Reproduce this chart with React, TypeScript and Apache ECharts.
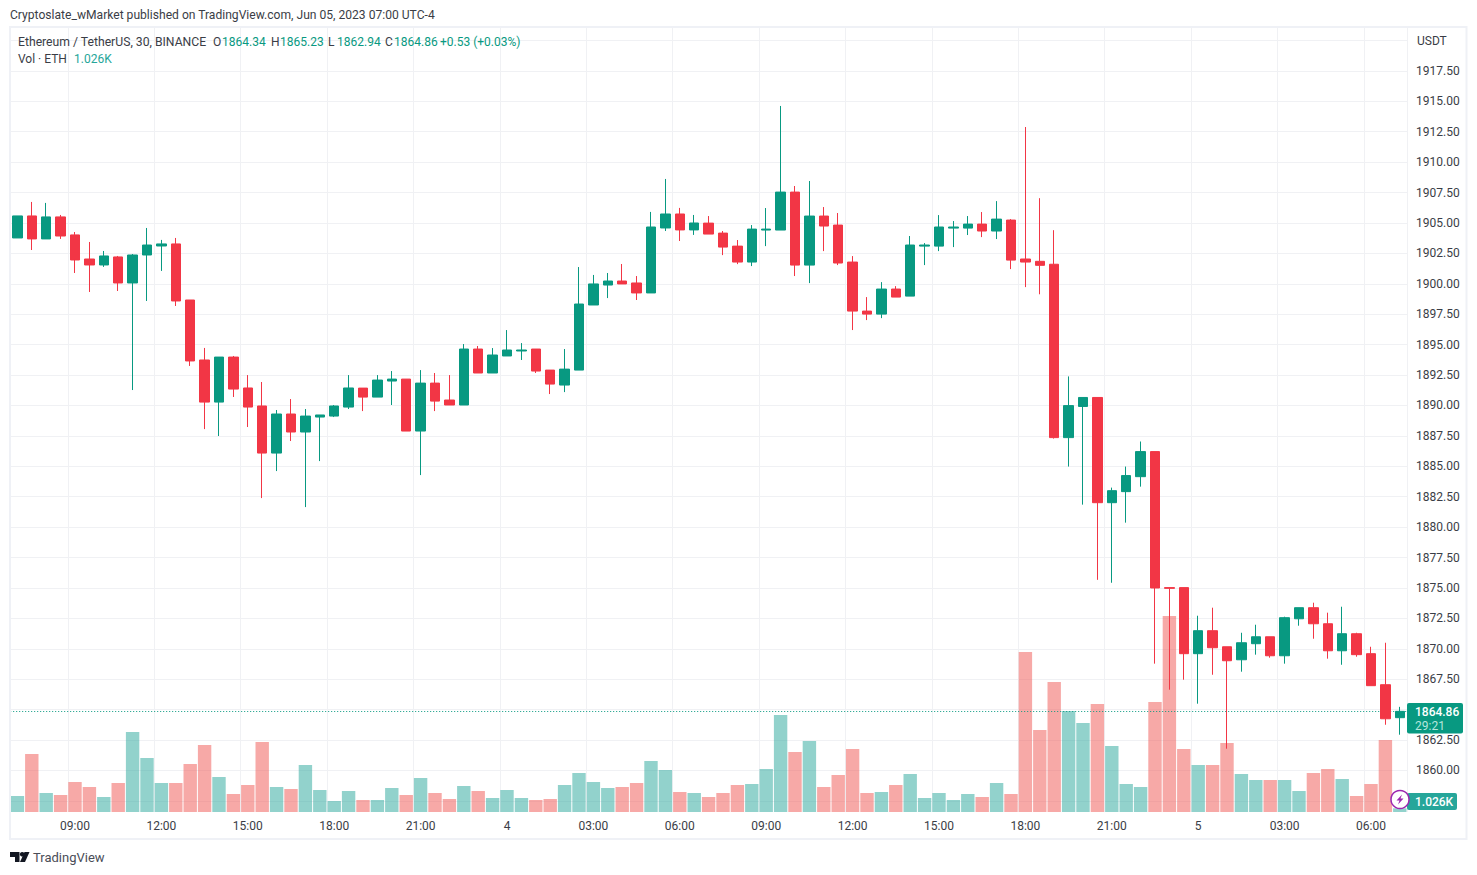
import React, { useEffect, useRef } from "react";
import * as echarts from "echarts";

const timeLabels = [
  "07:00","07:30","08:00","08:30","09:00","09:30","10:00","10:30","11:00","11:30","12:00","12:30","13:00","13:30","14:00","14:30","15:00","15:30","16:00","16:30","17:00","17:30","18:00","18:30","19:00","19:30","20:00","20:30","21:00","21:30","22:00","22:30","23:00","23:30",
  "4","00:30","01:00","01:30","02:00","02:30","03:00","03:30","04:00","04:30","05:00","05:30","06:00","06:30","07:00","07:30","08:00","08:30","09:00","09:30","10:00","10:30","11:00","11:30","12:00","12:30","13:00","13:30","14:00","14:30","15:00","15:30","16:00","16:30","17:00","17:30","18:00","18:30","19:00","19:30","20:00","20:30","21:00","21:30","22:00","22:30","23:00","23:30",
  "5","00:30","01:00","01:30","02:00","02:30","03:00","03:30","04:00","04:30","05:00","05:30","06:00","06:30","07:00",
];

const opens = [
  1903.77,1905.58,1903.69,1905.50,1904.02,1902.04,1901.55,1902.21,1900.07,1902.37,1903.11,1903.28,1898.67,1893.74,1890.28,1893.98,1891.44,1889.96,1886.09,1889.30,1887.82,1889.05,1889.13,1889.87,
  1891.43,1890.69,1892.01,1892.17,1887.90,1891.84,1890.45,1890.04,1894.64,1892.67,1894.07,1894.48,1894.64,1892.91,1891.68,1892.91,1898.26,1899.90,1900.23,1900.07,1899.25,1904.59,1905.74,1904.43,
  1904.99,1904.17,1903.10,1901.79,1904.42,1904.42,1907.54,1901.54,1905.57,1904.83,1901.79,1897.76,1897.51,1899.57,1898.99,1903.10,1903.10,1904.58,1904.58,1904.91,1904.34,1905.24,1902.04,
  1901.85,1901.61,1887.36,1889.92,1890.66,1882.01,1882.92,1884.15,1886.21,1875.03,1875.03,1869.60,1871.49,1870.17,1869.10,1870.42,1870.99,1869.43,1872.47,1873.38,1872.06,1869.84,1871.24,1869.60,1867.05,1864.34,
];
const closes = [
  1905.58,1903.69,1905.50,1903.93,1901.96,1901.55,1902.29,1900.07,1902.37,1903.19,1903.28,1898.59,1893.66,1890.28,1893.98,1891.35,1889.87,1886.09,1889.30,1887.82,1889.13,1889.22,1889.96,1891.44,
  1890.69,1892.09,1892.17,1887.90,1891.84,1890.36,1890.04,1894.64,1892.67,1894.15,1894.56,1894.56,1892.83,1891.76,1892.99,1898.34,1899.99,1900.23,1899.99,1899.25,1904.67,1905.74,1904.43,1905.00,
  1904.09,1903.02,1901.79,1904.50,1904.50,1907.54,1901.54,1905.57,1904.75,1901.71,1897.76,1897.51,1899.57,1898.91,1903.19,1903.19,1904.67,1904.67,1904.91,1904.34,1905.32,1901.95,1901.79,
  1901.52,1887.36,1889.99,1890.66,1882.01,1883.00,1884.24,1886.21,1875.00,1874.97,1869.60,1871.49,1870.09,1869.02,1870.50,1870.99,1869.43,1872.56,1873.38,1872.06,1869.84,1871.24,1869.52,1866.97,1864.25,1864.86,
];
const highs = [
  1905.58,1906.73,1906.65,1905.66,1904.26,1903.44,1902.70,1902.29,1902.45,1904.59,1903.61,1903.77,1898.67,1894.73,1893.98,1894.07,1892.50,1891.93,1889.63,1890.53,1889.71,1889.22,1890.04,1892.50,
  1891.43,1892.50,1892.83,1892.17,1892.91,1892.67,1892.50,1895.05,1894.89,1894.72,1896.20,1895.13,1894.64,1892.91,1894.64,1901.38,1900.73,1900.89,1901.63,1900.64,1905.91,1908.62,1906.24,1905.66,
  1905.57,1904.34,1903.60,1904.83,1906.23,1914.62,1908.04,1908.45,1906.31,1905.82,1902.28,1898.91,1900.14,1899.81,1903.93,1903.35,1905.65,1905.16,1905.57,1905.90,1906.80,1905.32,1912.89,
  1907.04,1904.41,1892.39,1890.66,1890.66,1883.25,1884.98,1887.04,1886.21,1875.03,1875.03,1872.72,1873.38,1870.17,1871.32,1871.98,1870.99,1872.64,1873.38,1873.79,1872.97,1873.46,1871.32,1870.17,1870.50,1865.23,
];
const lows = [
  1903.77,1902.78,1903.69,1903.69,1900.89,1899.33,1901.39,1899.41,1891.27,1898.59,1901.06,1898.18,1893.25,1888.06,1887.49,1890.70,1888.23,1882.39,1884.61,1887.08,1881.65,1885.43,1889.05,1889.71,
  1889.54,1890.69,1890.04,1887.90,1884.28,1889.54,1890.04,1890.04,1892.67,1892.67,1894.07,1893.74,1892.67,1890.94,1891.10,1892.91,1898.26,1898.83,1899.99,1898.67,1899.25,1904.34,1903.52,1904.02,
  1904.09,1902.36,1901.62,1901.46,1903.10,1904.42,1900.64,1900.06,1902.69,1901.54,1896.20,1897.02,1897.18,1898.91,1898.99,1901.54,1902.69,1903.02,1904.01,1903.84,1903.68,1901.21,1899.73,
  1899.14,1887.28,1884.98,1881.85,1875.67,1875.43,1880.37,1883.33,1868.78,1866.64,1867.46,1865.49,1867.87,1861.79,1868.12,1869.52,1869.27,1868.78,1871.90,1870.83,1869.19,1868.69,1869.35,1866.97,1863.76,1862.94,
];
const volumes = [
  4.44,16.11,5.28,4.72,8.33,6.94,4.17,8.06,22.22,15.0,8.06,8.06,13.33,18.61,9.72,5.0,7.5,19.44,6.94,6.39,13.06,6.11,3.06,5.83,3.33,3.33,6.67,4.72,9.44,5.28,3.61,7.22,5.83,3.89,
  6.11,3.89,3.33,3.61,7.5,10.83,8.33,6.67,6.94,8.06,14.17,11.67,5.56,5.28,4.17,5.28,7.5,7.78,11.94,26.94,16.67,19.72,6.94,10.28,17.5,5.28,5.56,7.5,10.56,3.89,5.28,3.33,5.0,4.17,8.06,5.0,
  44.44,22.78,36.11,28.06,24.72,30.0,18.33,7.78,6.94,30.56,54.44,17.5,13.06,13.06,19.17,10.56,8.89,8.89,8.89,5.83,10.83,11.94,9.17,4.44,7.78,20.0,1.026,
];

const publishedText = "Cryptoslate_wMarket published on TradingView.com, Jun 05, 2023 07:00 UTC-4";
const symbolText = "Ethereum / TetherUS, 30, BINANCE";
const volumeTitle = "Vol · ETH";
const volumeText = "1.026K";
const countdownText = "29:21";
const changeText = "+0.53 (+0.03%)";
const ohlcLetters = ["O", "H", "L", "C"];
const ohlcValues = ["1864.34", "1865.23", "1862.94", "1864.86"];
const quoteUnit = "USDT";
const brandText = "TradingView";

const UP = "#089981";
const DOWN = "#f23645";
const UP_VOL = "rgba(38,166,154,0.5)";
const DOWN_VOL = "rgba(239,83,80,0.5)";
const GRID = "#f0f1f4";
const TEXT = "#3a3d46";
const FONT = "Roboto, sans-serif";

const LEFT = 10.2;
const WIDTH = 1396.8;

function txt(text: string, x: number, y: number, fill = TEXT, fontSize = 12, fontWeight: any = "normal") {
  return {
    type: "text",
    x,
    y,
    silent: true,
    z: 30,
    style: { text, fill, fontSize, fontFamily: FONT, fontWeight, textVerticalAlign: "middle", textAlign: "left" },
  };
}

export default function App() {
  const ref = useRef<HTMLDivElement>(null);
  useEffect(() => {
    const chart = echarts.init(ref.current!, undefined, { renderer: "svg" });
    const tickEvery6 = (i: number) => i >= 4 && (i - 4) % 6 === 0;
    const lastClose = closes[closes.length - 1];
    const ohlcX = [213, 271, 328, 385];
    const ohlcValX = [222, 280, 337, 394];
    chart.setOption({
      animation: false,
      backgroundColor: "#ffffff",
      textStyle: { fontFamily: FONT },
      grid: [
        { left: LEFT, width: WIDTH, top: 28, height: 784 },
        { left: LEFT, width: WIDTH, top: 40.5, height: 760.4 },
      ],
      xAxis: [
        {
          type: "category",
          gridIndex: 0,
          data: timeLabels,
          boundaryGap: true,
          axisLine: { show: false },
          axisTick: { show: false },
          splitLine: { show: true, interval: (i: number) => tickEvery6(i), lineStyle: { color: GRID, width: 1 } },
          axisLabel: { interval: (i: number) => tickEvery6(i), color: TEXT, fontSize: 12, fontFamily: FONT, margin: 8, hideOverlap: false },
        },
        {
          type: "category",
          gridIndex: 1,
          data: timeLabels,
          boundaryGap: true,
          axisLine: { show: false },
          axisTick: { show: false },
          axisLabel: { show: false },
          splitLine: { show: false },
        },
      ],
      yAxis: [
        {
          type: "value",
          gridIndex: 0,
          min: 0,
          max: 217.78,
          show: false,
          splitLine: { show: false },
        },
        {
          type: "value",
          gridIndex: 1,
          position: "right",
          min: 1857.5,
          max: 1920,
          interval: 2.5,
          axisLine: { show: false },
          axisTick: { show: false },
          splitLine: { show: true, lineStyle: { color: GRID, width: 1 } },
          axisLabel: {
            color: TEXT,
            fontSize: 12,
            fontFamily: FONT,
            margin: 9,
            showMinLabel: false,
            showMaxLabel: false,
            formatter: (v: number) => v.toFixed(2),
          },
        },
      ],
      series: [
        {
          type: "bar",
          xAxisIndex: 0,
          yAxisIndex: 0,
          barWidth: 13.4,
          z: 2,
          data: volumes.map((v, i) => ({
            value: v,
            itemStyle: { color: closes[i] >= opens[i] ? UP_VOL : DOWN_VOL },
          })),
        },
        {
          type: "candlestick",
          xAxisIndex: 1,
          yAxisIndex: 1,
          barWidth: 10,
          z: 5,
          itemStyle: { color: UP, color0: DOWN, borderColor: UP, borderColor0: DOWN, borderWidth: 1 },
          data: opens.map((o, i) => [o, closes[i], lows[i], highs[i]]),
          markLine: {
            silent: true,
            symbol: "none",
            animation: false,
            label: { show: false },
            lineStyle: { color: UP, type: [1, 2], width: 1 },
            data: [{ yAxis: lastClose }],
          },
        },
      ],
      graphic: [
        { type: "rect", silent: true, z: 20, shape: { x: 10, y: 27, width: 1456.5, height: 812 }, style: { fill: "none", stroke: "#eff1f6", lineWidth: 2 } },
        txt(publishedText, 10, 14.5, TEXT, 12.1),
        txt(symbolText, 18, 42, TEXT, 12.2),
        ...ohlcLetters.map((s, i) => txt(s, ohlcX[i], 42, TEXT, 12)),
        ...ohlcValues.map((s, i) => txt(s, ohlcValX[i], 42, UP, 12)),
        txt(changeText, 440, 42, UP, 12),
        txt(volumeTitle, 18, 59, TEXT, 12),
        txt(volumeText, 74, 59, "#26a69a", 12),
        txt(quoteUnit, 1417, 41, TEXT, 12),
        { type: "rect", silent: true, z: 25, shape: { x: 1407, y: 703, width: 56, height: 30.5, r: 2 }, style: { fill: UP } },
        txt(ohlcValues[3], 1415, 712, "#ffffff", 12, 500),
        txt(countdownText, 1415, 725.5, "#b5e6dd", 12),
        { type: "rect", silent: true, z: 25, shape: { x: 1407, y: 793, width: 50, height: 17, r: 2 }, style: { fill: "#26a69a" } },
        txt(volumeText, 1415, 802, "#ffffff", 12, 500),
        { type: "circle", silent: true, z: 26, shape: { cx: 1400, cy: 799.5, r: 9 }, style: { fill: "#ffffff", stroke: "#9c27b0", lineWidth: 1.5 } },
        { type: "polygon", silent: true, z: 27, shape: { points: [[1402, 794.5], [1396.5, 800.5], [1399.5, 800.5], [1398, 804.5], [1403.5, 798.5], [1400.5, 798.5]] }, style: { fill: "#9c27b0" } },
        { type: "polygon", silent: true, z: 30, shape: { points: [[10, 852], [19.5, 852], [19.5, 862], [15, 862], [15, 857], [10, 857]] }, style: { fill: "#131722" } },
        { type: "circle", silent: true, z: 30, shape: { cx: 22.2, cy: 854.3, r: 2.3 }, style: { fill: "#131722" } },
        { type: "polygon", silent: true, z: 30, shape: { points: [[24.5, 852], [29.5, 852], [25, 862], [20, 862]] }, style: { fill: "#131722" } },
        txt(brandText, 33, 857.5, "#4a4d57", 13),
      ],
    });
    return () => chart.dispose();
  }, []);
  return <div ref={ref} style={{ position: "fixed", left: 0, top: 0, width: 1477, height: 875 }} />;
}
